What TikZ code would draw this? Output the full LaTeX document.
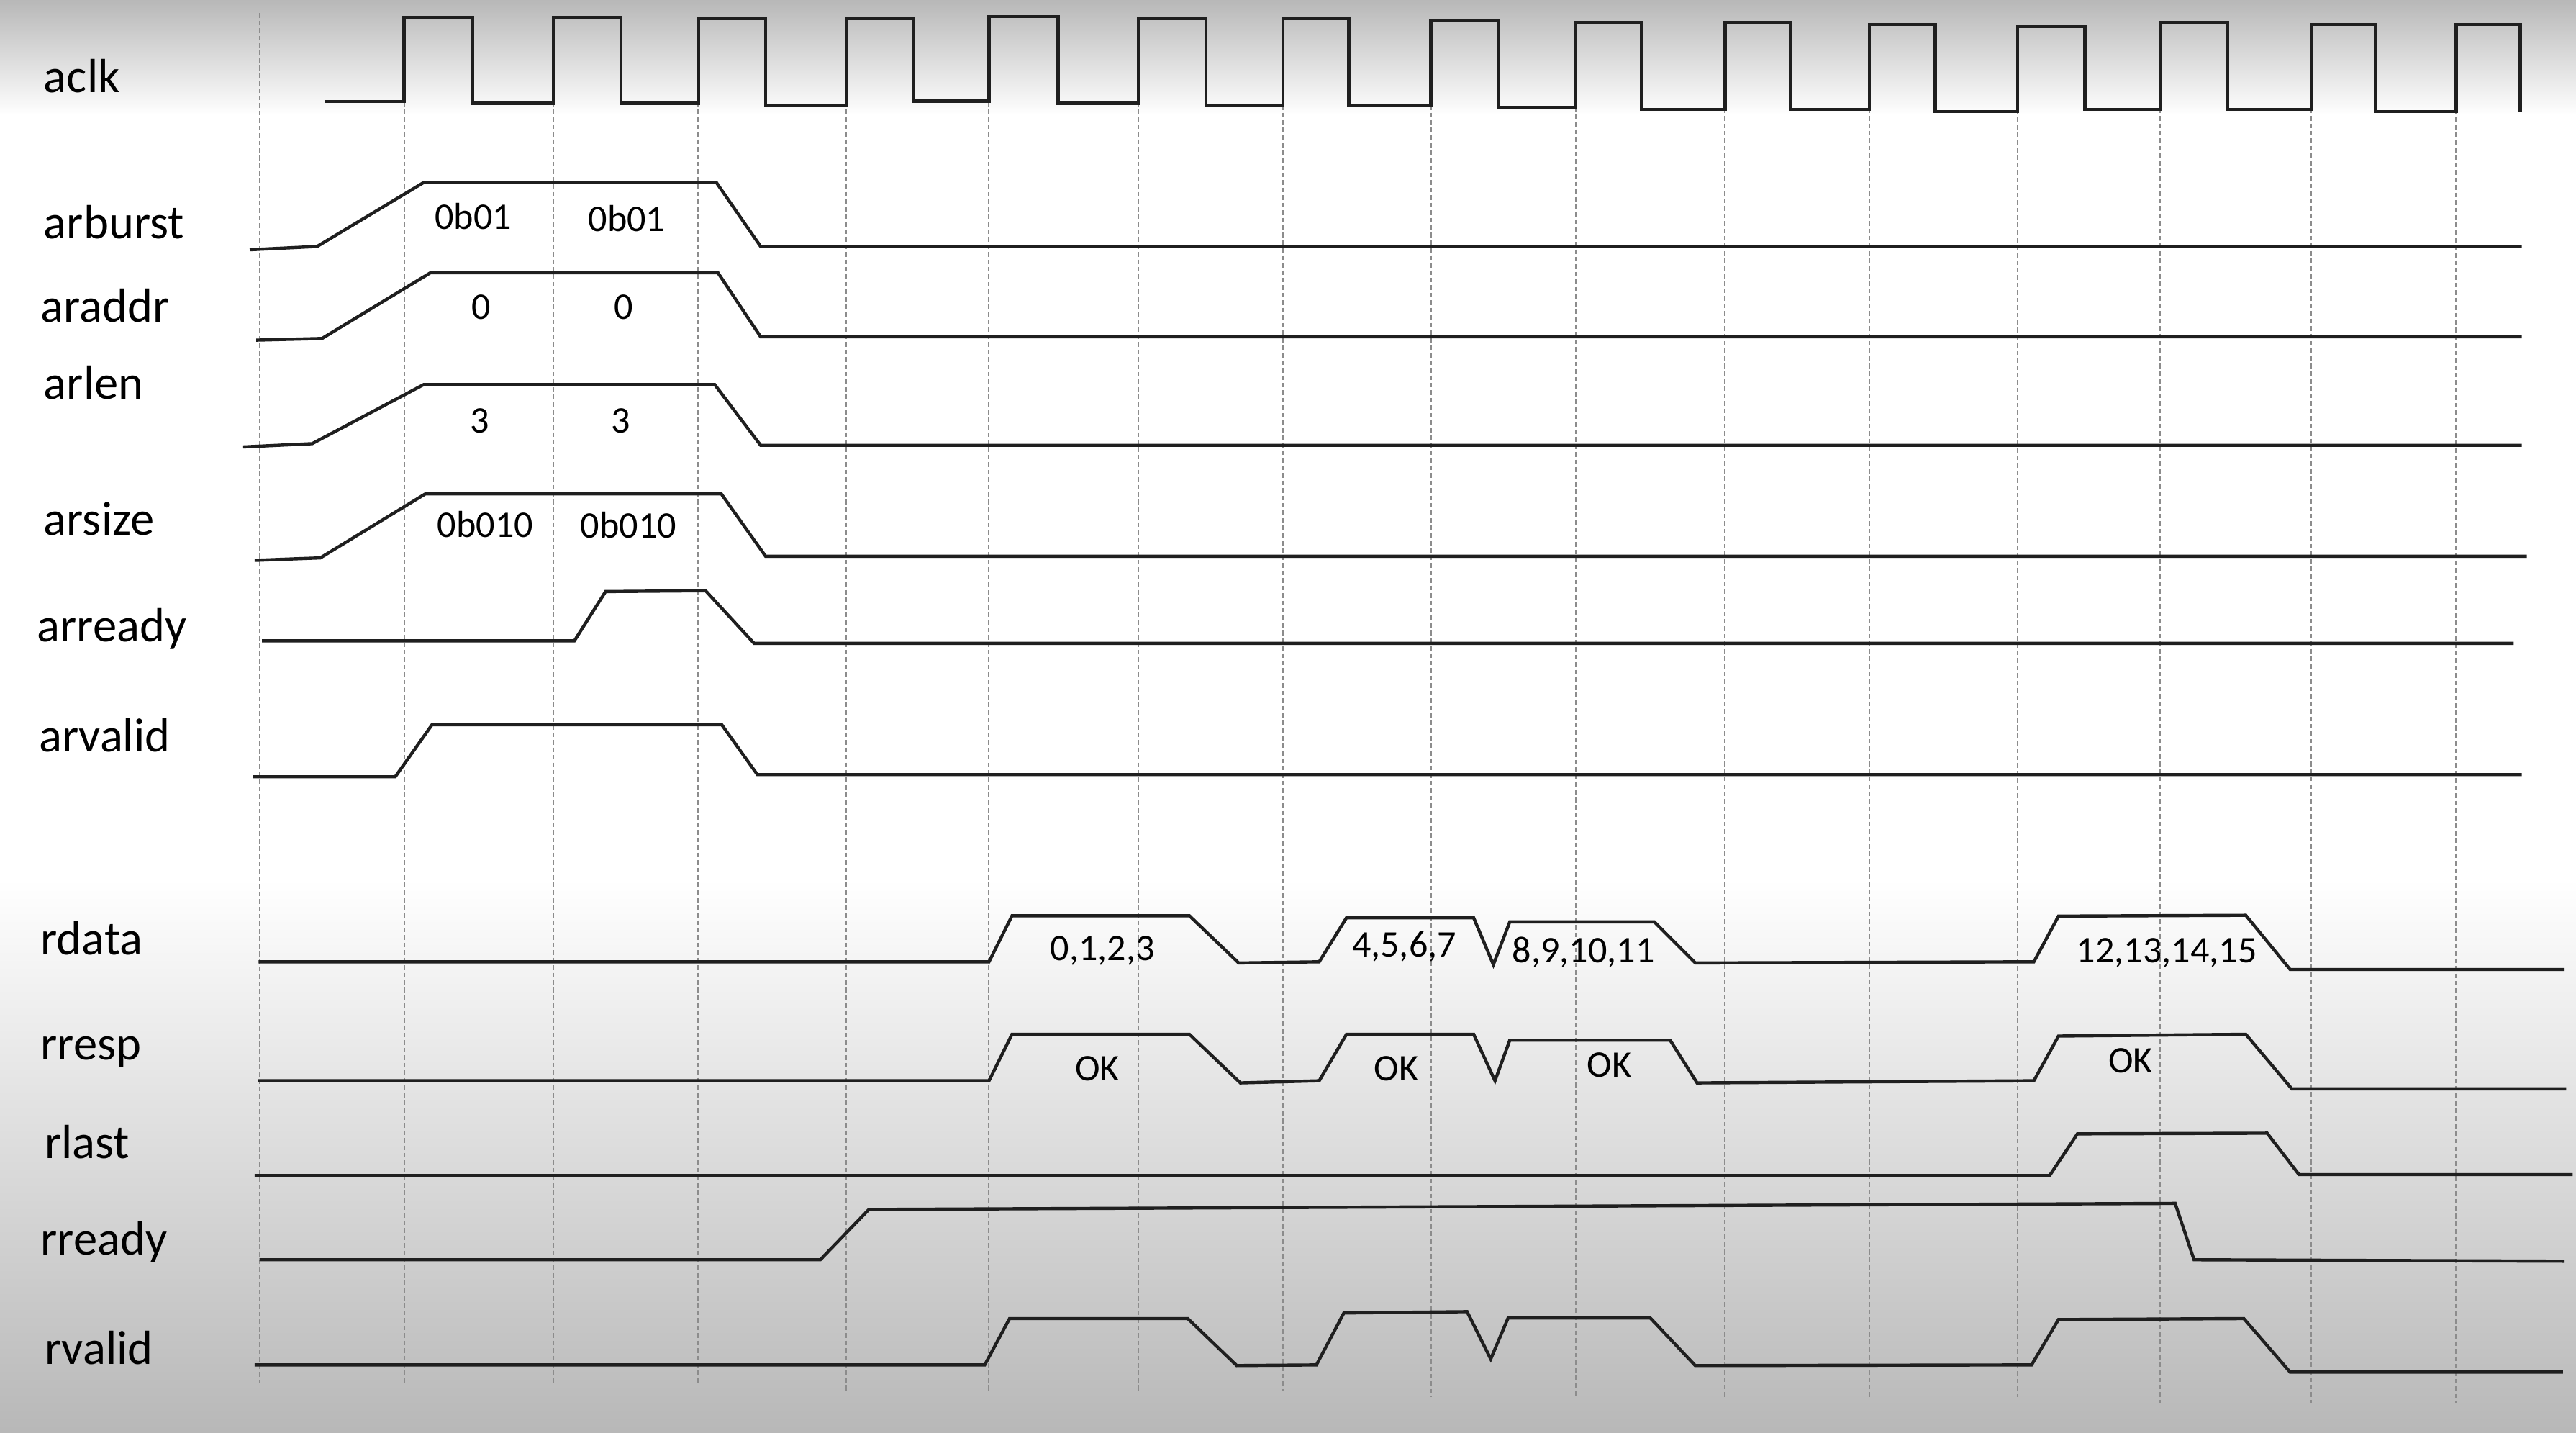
\documentclass[tikz,border=0pt]{standalone}
\usepackage{fontspec}
\setmainfont{Carlito}

\begin{document}
\begin{tikzpicture}[
  x=0.1mm, y=-0.1mm,
  wave/.style={draw=black!88, line width=0.55pt, line join=miter},
  gridline/.style={draw=black!45, line width=0.25pt, dash pattern=on 0.8pt off 0.5pt},
  signame/.style={anchor=base west, inner sep=0pt, font=\fontsize{8.3}{10}\selectfont},
  busval/.style={anchor=base, inner sep=0pt, font=\fontsize{6.5}{8}\selectfont}
]
\useasboundingbox (0,0) rectangle (1568,872);

% background
\fill[white] (0,0) rectangle (1568,872);
\shade[top color=black!28, bottom color=white] (0,0) rectangle (1568,70);
\shade[top color=white, bottom color=black!28] (0,535) rectangle (1568,872);

% clock grid
\foreach \x/\s/\e in {158/8/842, 246/62/842, 337/62/842, 425/62/842, 515/62/846,
  602/62/846, 693/62/846, 781/64/846, 871/64/850, 959/65/850, 1050/66/850,
  1138/66/850, 1228/67/850, 1315/66/854, 1407/66/854, 1495/67/854}
  \draw[gridline] (\x,\s) -- (\x,\e);

% signal names
\node[signame] (aclk)    at (26,56.2)  {aclk};
\node[signame] (arburst) at (26,145)   {arburst};
\node[signame] (araddr)  at (24,196)   {araddr};
\node[signame] (arlen)   at (26,243)   {arlen};
\node[signame] (arsize)  at (26,325.5) {arsize};
\node[signame] (arready) at (22,390.5) {arready};
\node[signame] (arvalid) at (23,457.7) {arvalid};
\node[signame] (rdata)   at (24,581)   {rdata};
\node[signame] (rresp)   at (24,645)   {rresp};
\node[signame] (rlast)   at (26.5,705) {rlast};
\node[signame] (rready)  at (24,763.5) {rready};
\node[signame] (rvalid)  at (26.5,830) {rvalid};

% aclk
\draw[wave] (198,61.7)
  foreach \r/\h/\f/\l in {246/10.4/287.5/62.9, 337/10.4/378/62.9, 425/11.4/466/64,
    515/11.4/556/61.6, 602/10.2/644/62.8, 693/11.4/734/64, 781/11.4/821/64,
    871/12.8/912/65.3, 959/13.9/999/66.7, 1050/13.9/1090/66.7, 1138/15/1178/67.9,
    1228/16.3/1269/66.7, 1315/13.9/1356/66.7, 1407/15/1446/67.9, 1495/15/1534/68}
  { -| (\r,\h) -- (\f,\h) -- (\f,\l) };

% arburst
\draw[wave] (152,152) -- (193,150) -- (258,111) -- (436,111) -- (463,150) -- (1535,150);
\node[busval] (burst1) at (288,139.4) {0b01};
\node[busval] (burst2) at (381.5,141) {0b01};

% araddr
\draw[wave] (156,207) -- (196,206) -- (262,166) -- (437,166) -- (463,205) -- (1535,205);
\node[busval] (addr1) at (293,194.4) {0};
\node[busval] (addr2) at (379.6,194.4) {0};

% arlen
\draw[wave] (148,272) -- (190,270) -- (258,234) -- (435,234) -- (463,271) -- (1535,271);
\node[busval] (len1) at (292,263.5) {3};
\node[busval] (len2) at (378,263.5) {3};

% arsize
\draw[wave] (155,341) -- (195,339.5) -- (259,300.5) -- (439,300.5) -- (466,338.5) -- (1538,338.5);
\node[busval] (size1) at (295.4,327) {0b010};
\node[busval] (size2) at (382.6,327.5) {0b010};

% arready
\draw[wave] (159.5,390) -- (349.6,390) -- (368.6,360) -- (429.5,359.5) -- (459,391.5) -- (1530,391.5);

% arvalid
\draw[wave] (154,472.7) -- (240.6,472.7) -- (263,441) -- (439.3,441) -- (461,471.4) -- (1535,471.4);

% rdata
\draw[wave] (157.4,585.3) -- (602,585.3) -- (616,557.3) -- (724,557.3) -- (754,586)
  -- (803,585.3) -- (819.6,558.5) -- (897,558.5) -- (909,587) -- (919,561) -- (1007,561)
  -- (1032,586) -- (1238,585.3) -- (1253,557.5) -- (1367,557) -- (1394,590) -- (1561,590);
\node[busval] (data1) at (671,584.7) {0,1,2,3};
\node[busval] (data2) at (854.7,582.5) {4,5,6,7};
\node[busval] (data3) at (963.9,586) {8,9,10,11};
\node[busval] (data4) at (1318.8,586) {12,13,14,15};

% rresp
\draw[wave] (157,657.7) -- (602,657.7) -- (616,629.4) -- (724,629.4) -- (755,659)
  -- (803,657.7) -- (819.6,629.4) -- (897,629.4) -- (910,657.7) -- (919,633) -- (1016.6,633)
  -- (1033,659) -- (1238,657.7) -- (1253,630.5) -- (1367,629.4) -- (1395,662.6) -- (1562,662.6);
\node[busval] (resp1) at (668,657.8) {OK};
\node[busval] (resp2) at (850,657.8) {OK};
\node[busval] (resp3) at (979.6,655.4) {OK};
\node[busval] (resp4) at (1297,653) {OK};

% rlast
\draw[wave] (155,715.4) -- (1247.6,715.4) -- (1264.5,690) -- (1380,689.6) -- (1399.4,714.8) -- (1566,714.8);

% rready
\draw[wave] (158,766.6) -- (499.3,766.6) -- (528.9,736) -- (1324,732.3) -- (1335.5,766.6) -- (1561,767.5);

% rvalid
\draw[wave] (155,830.6) -- (599.4,830.6) -- (614.5,802.4) -- (723,802.4) -- (752.8,831)
  -- (801.3,830.6) -- (818,799) -- (893,798.2) -- (907.4,827) -- (918,802) -- (1004.5,802)
  -- (1031.9,831) -- (1236.6,830.6) -- (1253,803) -- (1365.8,802.4) -- (1394,835) -- (1560,835);

\end{tikzpicture}
\end{document}
